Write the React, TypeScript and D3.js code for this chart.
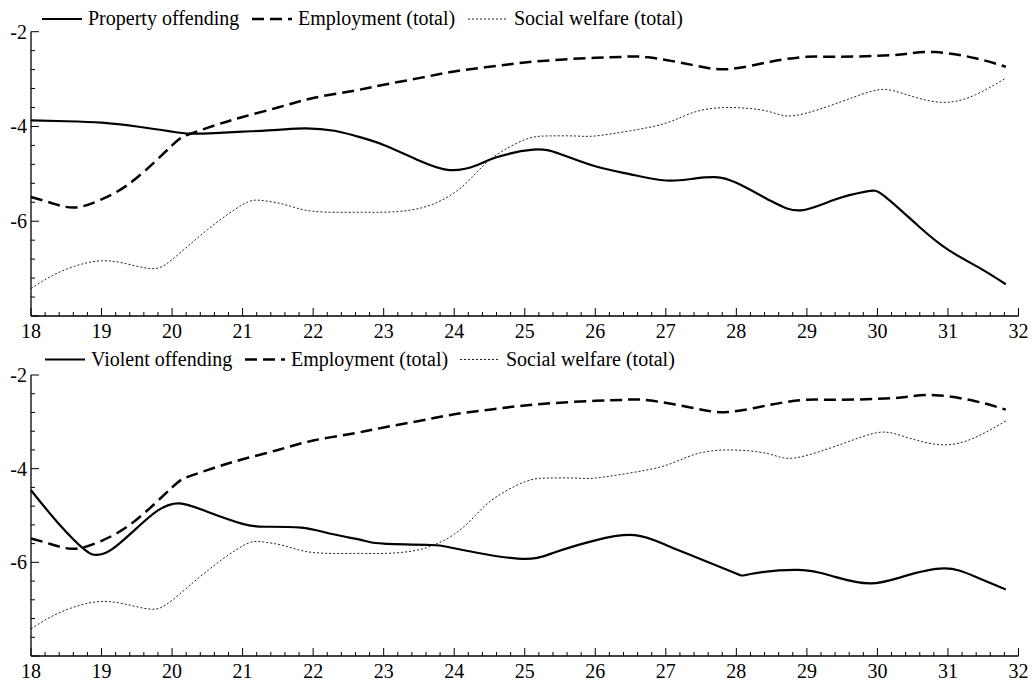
import React from "react";
import * as d3 from "d3";

// ---------- Data ----------
const propertyAges = [18, 18.5, 19, 19.5, 20, 20.25, 20.6, 21, 21.5, 21.9, 22.3, 22.6, 23, 23.5, 23.93, 24.3, 24.6, 25.12, 25.5, 26, 26.5, 27, 27.4, 27.7, 28, 28.5, 28.92, 29.4, 29.85, 30.1, 30.58, 31, 31.44, 31.82];
const propertyValues = [-3.87, -3.89, -3.92, -4.0, -4.11, -4.15, -4.14, -4.11, -4.07, -4.04, -4.09, -4.2, -4.39, -4.72, -4.92, -4.83, -4.65, -4.49, -4.58, -4.84, -5.01, -5.14, -5.1, -5.07, -5.19, -5.58, -5.77, -5.54, -5.37, -5.47, -6.1, -6.6, -6.98, -7.33];

const violentAges = [18, 18.39, 18.76, 18.93, 19.14, 19.52, 19.8, 20.1, 20.5, 21, 21.31, 21.83, 22.25, 22.73, 23, 23.67, 24, 24.9, 25.42, 26, 26.56, 27, 27.41, 27.98, 28.2, 28.88, 29.4, 29.9, 30.35, 30.94, 31.39, 31.82];
const violentValues = [-4.46, -5.17, -5.73, -5.84, -5.73, -5.24, -4.89, -4.74, -4.92, -5.18, -5.24, -5.26, -5.39, -5.54, -5.6, -5.63, -5.7, -5.92, -5.79, -5.53, -5.42, -5.63, -5.88, -6.23, -6.25, -6.16, -6.31, -6.45, -6.31, -6.13, -6.31, -6.58];

const employmentAges = [18, 18.3, 18.62, 19, 19.47, 20, 20.23, 20.6, 21, 21.5, 22, 22.6, 23, 23.5, 24, 24.5, 25, 25.5, 26, 26.4, 26.75, 27.37, 27.88, 28.5, 29, 29.4, 30, 30.4, 30.82, 31.39, 31.82];
const employmentValues = [-5.49, -5.62, -5.71, -5.54, -5.12, -4.4, -4.17, -3.98, -3.8, -3.6, -3.4, -3.24, -3.12, -2.98, -2.84, -2.74, -2.65, -2.59, -2.55, -2.53, -2.54, -2.7, -2.79, -2.63, -2.53, -2.53, -2.51, -2.47, -2.43, -2.56, -2.74];

const welfareAges = [18, 18.3, 18.62, 18.95, 19.3, 19.7, 20, 20.5, 21, 21.26, 21.6, 22, 22.6, 23, 23.53, 24, 24.3, 24.57, 25, 25.33, 25.7, 26, 26.5, 27, 27.4, 27.88, 28.45, 28.83, 29.5, 30, 30.35, 30.9, 31.39, 31.82];
const welfareValues = [-7.42, -7.15, -6.95, -6.84, -6.88, -7.0, -6.81, -6.18, -5.65, -5.56, -5.65, -5.79, -5.81, -5.81, -5.72, -5.4, -5.0, -4.63, -4.28, -4.2, -4.2, -4.2, -4.09, -3.93, -3.7, -3.6, -3.68, -3.77, -3.47, -3.23, -3.3, -3.49, -3.33, -2.98];

const xTickLabels = ["18", "19", "20", "21", "22", "23", "24", "25", "26", "27", "28", "29", "30", "31", "32"];
const yTickLabels = ["-2", "-4", "-6"];

const panelOffenceLabels = ["Property offending", "Violent offending"];
const employmentLabel = "Employment (total)";
const welfareLabel = "Social welfare (total)";

const FONT = "Liberation Serif";

type Pt = [number, number];
const zip = (a: number[], b: number[]): Pt[] => a.map((v, i) => [v, b[i]]);

function Panel({ top, bottom, offenceAges, offenceValues, offenceLabel, legendY, legendX }: {
  top: number; bottom: number; offenceAges: number[]; offenceValues: number[]; offenceLabel: string;
  legendY: number; legendX: number[];
}) {
  const x = d3.scaleLinear().domain([18, 32]).range([31, 1018.5]);
  const y = d3.scaleLinear().domain([-8, -2]).range([bottom, top]);
  const line = d3.line<Pt>().x(d => x(d[0])).y(d => y(d[1])).curve(d3.curveNatural);

  const majorX = xTickLabels.map(Number);
  const minorX = d3.range(0, 71).map(i => 18 + i * 0.2).filter(v => Math.abs(v - Math.round(v)) > 0.01);
  const majorY = [-2, -4, -6, -8];
  const minorY = d3.range(0, 16).map(i => -8 + i * 0.4).filter(v => Math.abs(v / 2 - Math.round(v / 2)) > 0.01);

  const x0 = x(18);
  const textStyle = { fontFamily: FONT, fontSize: 20 };
  return (
    <g>
      {/* series */}
      <path d={line(zip(welfareAges, welfareValues)) || ""} fill="none" stroke="#222" strokeWidth={1} strokeDasharray="2,2" />
      <path d={line(zip(employmentAges, employmentValues)) || ""} fill="none" stroke="#000" strokeWidth={2.5} strokeDasharray="12,6" />
      <path d={line(zip(offenceAges, offenceValues)) || ""} fill="none" stroke="#000" strokeWidth={2.2} />

      {/* axes */}
      <line x1={x0} x2={x0} y1={y(-2)} y2={y(-8)} stroke="#000" strokeWidth={1.3} />
      <line x1={x0} x2={x(32)} y1={y(-8)} y2={y(-8)} stroke="#000" strokeWidth={1.3} />
      {majorY.map(v => <line key={"my" + v} x1={x0} x2={x0 + 8} y1={y(v)} y2={y(v)} stroke="#000" strokeWidth={1} />)}
      {minorY.map(v => <line key={"ny" + v} x1={x0} x2={x0 + 4} y1={y(v)} y2={y(v)} stroke="#000" strokeWidth={1} />)}
      {majorX.map(v => <line key={"mx" + v} x1={x(v)} x2={x(v)} y1={y(-8)} y2={y(-8) - 8} stroke="#000" strokeWidth={1} />)}
      {minorX.map(v => <line key={"nx" + v} x1={x(v)} x2={x(v)} y1={y(-8)} y2={y(-8) - 4} stroke="#000" strokeWidth={1} />)}
      {yTickLabels.map(t => (
        <text key={"yl" + t} x={27} y={y(Number(t)) + 7} textAnchor="end" style={textStyle}>{t}</text>
      ))}
      {xTickLabels.map(t => (
        <text key={"xl" + t} x={x(Number(t))} y={y(-8) + 21.5} textAnchor="middle" style={textStyle}>{t}</text>
      ))}

      {/* legend */}
      <line x1={legendX[0]} x2={legendX[0] + 40} y1={legendY} y2={legendY} stroke="#000" strokeWidth={2.2} />
      <text x={legendX[0] + 46} y={legendY + 6} style={textStyle}>{offenceLabel}</text>
      <line x1={legendX[1]} x2={legendX[1] + 40} y1={legendY} y2={legendY} stroke="#000" strokeWidth={2.5} strokeDasharray="12,6" />
      <text x={legendX[1] + 46} y={legendY + 6} style={textStyle}>{employmentLabel}</text>
      <line x1={legendX[2]} x2={legendX[2] + 40} y1={legendY} y2={legendY} stroke="#222" strokeWidth={1} strokeDasharray="2,2" />
      <text x={legendX[2] + 46} y={legendY + 6} style={textStyle}>{welfareLabel}</text>
    </g>
  );
}

export default function App() {
  return (
    <svg width={1033} height={688} style={{ position: "absolute", left: 0, top: 0, background: "#fff" }}>
      <rect width={1033} height={688} fill="#fff" />
      <Panel top={31.7} bottom={316} offenceAges={propertyAges} offenceValues={propertyValues}
        offenceLabel={panelOffenceLabels[0]} legendY={19} legendX={[42, 252, 468]} />
      <Panel top={375} bottom={656} offenceAges={violentAges} offenceValues={violentValues}
        offenceLabel={panelOffenceLabels[1]} legendY={359.5} legendX={[45, 245, 460]} />
    </svg>
  );
}
